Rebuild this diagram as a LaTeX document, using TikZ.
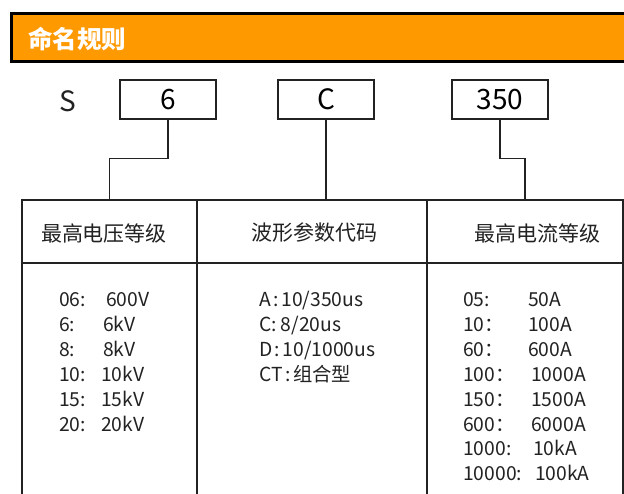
\documentclass[tikz,border=0pt]{standalone}
\usepackage{fontspec}
\setmainfont{Noto Sans CJK SC}
\begin{document}
\begin{tikzpicture}[x=1pt,y=-1pt]
\definecolor{barColor}{RGB}{255,153,0}
\definecolor{drawColor}{RGB}{34,34,34}
\tikzset{
  codebox/.style={draw=drawColor,line width=1.5pt,minimum width=96pt,minimum height=39pt,inner sep=0pt,font=\fontsize{28}{30}\selectfont},
  cell/.style={draw=drawColor,line width=1.6pt,inner sep=0pt,minimum height=63pt},
  bodycell/.style={draw=drawColor,line width=1.6pt,inner sep=0pt,minimum height=280pt},
  headtext/.style={inner sep=0pt,text=drawColor,font=\fontsize{21}{24}\selectfont},
  item/.style={anchor=base west,inner sep=0pt,text=drawColor,font=\fontsize{19.3}{21}\selectfont},
  link/.style={draw=drawColor,line width=1.5pt}
}
\path[use as bounding box,fill=white] (0,0) rectangle (624,494);
\begin{scope}
\path[clip] (0,0) rectangle (624,494);

\path[draw=black,line width=3pt,fill=barColor] (11.5,13.5) rectangle (640,61.5);
\node[text=white,anchor=west,inner sep=0pt,font=\fontsize{24.5}{27}\selectfont\bfseries] (title) at (28,39) {命名规则};

\node[inner sep=0pt,text=drawColor,font=\fontsize{28}{30}\selectfont] (prefix) at (68,101) {S};
\node[codebox] (code6) at (168,99.5) {6};
\node[codebox] (codeC) at (326,99.5) {C};
\node[codebox] (code350) at (500,99.5) {350};

\node[cell,minimum width=175pt] (headV) at (109.5,231.5) {};
\node[cell,minimum width=230pt] (headW) at (312,231.5) {};
\node[cell,minimum width=196pt] (headI) at (525,231.5) {};
\node[headtext] (headVtext) at (104,233) {最高电压等级};
\node[headtext] (headWtext) at (314,233) {波形参数代码};
\node[headtext] (headItext) at (537,233) {最高电流等级};

\node[bodycell,minimum width=175pt] (bodyV) at (109.5,403) {};
\node[bodycell,minimum width=230pt] (bodyW) at (312,403) {};
\node[bodycell,minimum width=196pt] (bodyI) at (525,403) {};

\path[link] (code6.south) -- ++(0,39) -| (headV.north);
\path[link] (codeC.south) -- (codeC.south |- headW.north);
\path[link] (code350.south) -- ++(0,39) -| (headI.north);

\node[item] (v1k) at (59,307) {06:};
\node[item] (v1v) at (106,307) {600V};
\node[item] (v2k) at (59,331.8) {6:};
\node[item] (v2v) at (103,331.8) {6kV};
\node[item] (v3k) at (59,356.6) {8:};
\node[item] (v3v) at (103,356.6) {8kV};
\node[item] (v4k) at (59,381.4) {10:};
\node[item] (v4v) at (101,381.4) {10kV};
\node[item] (v5k) at (59,406.2) {15:};
\node[item] (v5v) at (101,406.2) {15kV};
\node[item] (v6k) at (59,431) {20:};
\node[item] (v6v) at (101,431) {20kV};

\node[item] (w1) at (259,307) {A\hspace{2.5pt}:\hspace{2.5pt}10/350us};
\node[item] (w2) at (259,331.8) {C:\hspace{4pt}8/20us};
\node[item] (w3) at (259,356.6) {D\hspace{2.5pt}:\hspace{2.5pt}10/1000us};
\node[item] (w4) at (259,381.4) {CT\hspace{2.5pt}:\hspace{2.5pt}组合型};

\node[item] (i1k) at (463,307) {05:};
\node[item] (i1v) at (528,307) {50A};
\node[item] (i2k) at (463,331.8) {10：};
\node[item] (i2v) at (528,331.8) {100A};
\node[item] (i3k) at (463,356.6) {60：};
\node[item] (i3v) at (528,356.6) {600A};
\node[item] (i4k) at (463,381.4) {100：};
\node[item] (i4v) at (531,381.4) {1000A};
\node[item] (i5k) at (463,406.2) {150：};
\node[item] (i5v) at (531,406.2) {1500A};
\node[item] (i6k) at (463,431) {600：};
\node[item] (i6v) at (531,431) {6000A};
\node[item] (i7k) at (463,455.8) {1000:};
\node[item] (i7v) at (533,455.8) {10kA};
\node[item] (i8k) at (463,480.6) {10000:};
\node[item] (i8v) at (535,480.6) {100kA};
\end{scope}
\end{tikzpicture}
\end{document}
